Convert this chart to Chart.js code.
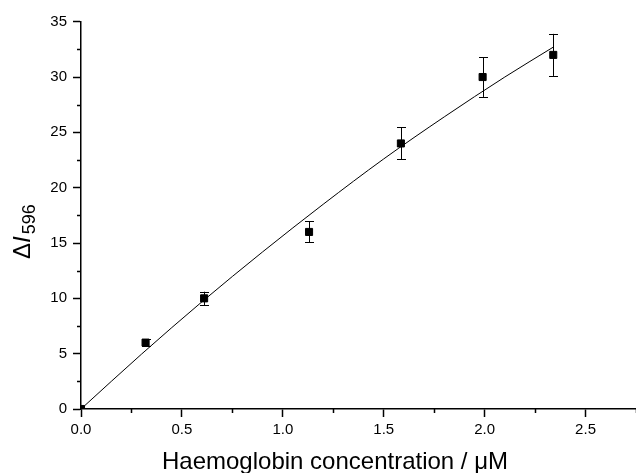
<!DOCTYPE html>
<html>
<head>
<meta charset="utf-8">
<script src="https://cdn.jsdelivr.net/npm/chart.js@4/dist/chart.umd.min.js"></script>
<style>
  html, body { margin: 0; padding: 0; background: #fff; overflow: hidden; }
  #wrap { width: 636px; height: 473px; position: relative; }
  canvas { display: block; }
</style>
</head>
<body>
<div id="wrap"><canvas id="c"></canvas></div>
<script>
// Measured data (haemoglobin concentration / µM vs ΔI596)
const concentration = [0, 0.32, 0.61, 1.13, 1.585, 1.99, 2.34];
const deltaI = [0, 6, 10, 16, 24, 30, 32];
const errorBars = [0, 0.3, 0.6, 0.95, 1.45, 1.8, 1.9];

// Fitted curve
const fitX = [0, 0.3, 0.6, 0.9, 1.2, 1.5, 1.8, 2.1, 2.34];
const fitY = [0, 4.96, 9.7, 14.2, 18.5, 22.6, 26.4, 30.0, 32.7];

// Tick labels
const xTicks = [0, 0.5, 1.0, 1.5, 2.0, 2.5];
const xMinorTicks = [0.25, 0.75, 1.25, 1.75, 2.25, 2.75];
const yTicks = [0, 5, 10, 15, 20, 25, 30, 35];
const yMinorTicks = [2.5, 7.5, 12.5, 17.5, 22.5, 27.5, 32.5];

const FONT = "'Liberation Sans', Arial, Helvetica, sans-serif";

const decorations = {
  id: 'decorations',
  afterDatasetsDraw(chart) {
    const ctx = chart.ctx;
    const xs = chart.scales.x, ys = chart.scales.y;
    ctx.save();
    ctx.strokeStyle = '#000';
    ctx.lineWidth = 1;
    concentration.forEach((cx, i) => {
      const e = errorBars[i];
      if (!e) return;
      const px = Math.round(xs.getPixelForValue(cx)) + 0.5;
      const top = ys.getPixelForValue(deltaI[i] + e);
      const bot = ys.getPixelForValue(deltaI[i] - e);
      ctx.beginPath();
      ctx.moveTo(px, top); ctx.lineTo(px, bot);
      ctx.moveTo(px - 4.5, Math.round(top) + 0.5); ctx.lineTo(px + 4.5, Math.round(top) + 0.5);
      ctx.moveTo(px - 4.5, Math.round(bot) + 0.5); ctx.lineTo(px + 4.5, Math.round(bot) + 0.5);
      ctx.stroke();
    });
    ctx.restore();
  },
  afterDraw(chart) {
    const ctx = chart.ctx;
    const xs = chart.scales.x, ys = chart.scales.y;
    const area = chart.chartArea;
    ctx.save();
    ctx.strokeStyle = '#000';
    ctx.lineWidth = 1.5;
    ctx.beginPath();
    xMinorTicks.forEach(v => {
      const px = Math.round(xs.getPixelForValue(v)) + 0.5;
      ctx.moveTo(px, area.bottom); ctx.lineTo(px, area.bottom + 4);
    });
    yMinorTicks.forEach(v => {
      const py = Math.round(ys.getPixelForValue(v)) + 0.5;
      ctx.moveTo(area.left, py); ctx.lineTo(area.left - 4, py);
    });
    ctx.stroke();

    // x-axis title
    ctx.fillStyle = '#000';
    ctx.font = '24px ' + FONT;
    ctx.textAlign = 'center';
    ctx.textBaseline = 'alphabetic';
    ctx.fillText('Haemoglobin concentration / \u03BCM', 335, 469);

    // y-axis title: ΔI596 (I italic, 596 subscript)
    ctx.translate(30, 259);
    ctx.rotate(-Math.PI / 2);
    ctx.textAlign = 'left';
    let x = 0;
    ctx.font = '24px ' + FONT;
    ctx.fillText('\u0394', x, 0);
    x += ctx.measureText('\u0394').width;
    ctx.font = 'italic 24px ' + FONT;
    ctx.fillText('I', x, 0);
    x += ctx.measureText('I').width + 2;
    ctx.font = '18px ' + FONT;
    ctx.fillText('596', x, 5);
    ctx.restore();
  }
};

new Chart(document.getElementById('c'), {
  type: 'scatter',
  data: {
    datasets: [
      {
        label: 'fit',
        data: fitX.map((v, i) => ({ x: v, y: fitY[i] })),
        showLine: true,
        borderColor: '#000',
        borderWidth: 1,
        pointRadius: 0,
        cubicInterpolationMode: 'monotone',
        order: 2
      },
      {
        label: 'data',
        data: concentration.map((v, i) => ({ x: v, y: deltaI[i] })),
        pointStyle: 'rect',
        pointRadius: 5,
        backgroundColor: '#000',
        borderColor: '#000',
        borderWidth: 1,
        order: 1
      }
    ]
  },
  options: {
    responsive: true,
    maintainAspectRatio: false,
    animation: false,
    devicePixelRatio: 1,
    layout: { autoPadding: false, padding: { top: 21.7, right: 0, bottom: 0, left: 0 } },
    plugins: { legend: { display: false }, tooltip: { enabled: false } },
    scales: {
      x: {
        type: 'linear',
        min: 0,
        max: 2.75,
        afterBuildTicks: s => { s.ticks = xTicks.map(v => ({ value: v })); },
        afterFit: s => { s.height = 64; },
        border: { display: true, color: '#000', width: 1.5 },
        grid: { display: true, drawOnChartArea: false, drawTicks: true, tickLength: 8, tickColor: '#000', tickWidth: 1.5 },
        ticks: { color: '#000', font: { family: FONT, size: 15 }, padding: 4, maxRotation: 0, autoSkip: false,
          callback: v => Number(v).toFixed(1) }
      },
      y: {
        type: 'linear',
        min: 0,
        max: 35,
        afterBuildTicks: s => { s.ticks = yTicks.map(v => ({ value: v })); },
        afterFit: s => { s.width = 81; },
        border: { display: true, color: '#000', width: 1.5 },
        grid: { display: true, drawOnChartArea: false, drawTicks: true, tickLength: 8, tickColor: '#000', tickWidth: 1.5 },
        ticks: { color: '#000', font: { family: FONT, size: 15 }, padding: 6, autoSkip: false,
          callback: v => String(v) }
      }
    }
  },
  plugins: [decorations]
});
</script>
</body>
</html>
